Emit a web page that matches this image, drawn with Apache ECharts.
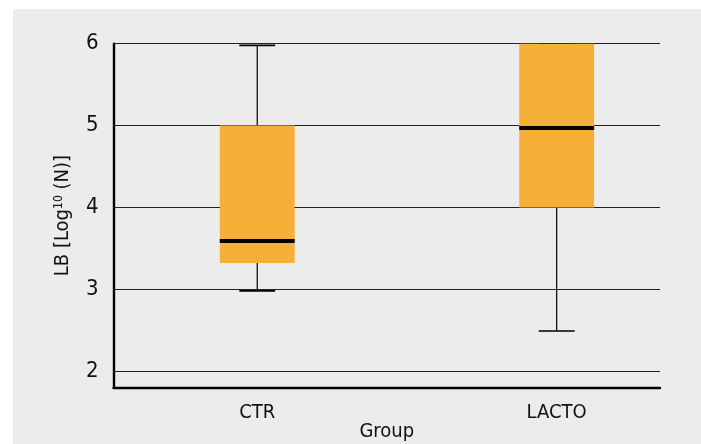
<!DOCTYPE html>
<html>
<head>
<meta charset="utf-8">
<script src="https://cdn.jsdelivr.net/npm/echarts@6/dist/echarts.min.js"></script>
<style>
html,body{margin:0;padding:0;background:#fff;}
#chart{width:701px;height:444px;}
</style>
</head>
<body>
<div id="chart"></div>
<script>
var categories = ['CTR', 'LACTO'];
var positions = [1, 2];
var lowWhisker = [2.98, 2.49];
var q1 = [3.32, 4.0];
var median = [3.59, 4.97];
var q3 = [5.0, 6.0];
var highWhisker = [5.98, 6.0];
var yTicks = [2, 3, 4, 5, 6];

var FONT = "'Liberation Sans Narrow', 'DejaVu Sans Condensed', 'Roboto', sans-serif";
var BOX_COLOR = '#f6af37';

var boxData = positions.map(function (p, i) {
  return [p, lowWhisker[i], q1[i], median[i], q3[i], highWhisker[i]];
});

function renderBox(params, api) {
  var x = api.value(0);
  var pLow = api.coord([x, api.value(1)]);
  var pQ1 = api.coord([x, api.value(2)]);
  var pMed = api.coord([x, api.value(3)]);
  var pQ3 = api.coord([x, api.value(4)]);
  var pHigh = api.coord([x, api.value(5)]);
  var boxW = api.size([0.25, 0])[0];
  var capW = api.size([0.12, 0])[0];
  var cx = pMed[0];
  return {
    type: 'group',
    children: [
      { type: 'line', shape: { x1: cx, y1: pHigh[1], x2: cx, y2: pQ3[1] }, style: { stroke: '#000', lineWidth: 1.2 } },
      { type: 'line', shape: { x1: cx, y1: pLow[1], x2: cx, y2: pQ1[1] }, style: { stroke: '#000', lineWidth: 1.2 } },
      { type: 'line', shape: { x1: cx - capW / 2, y1: pHigh[1], x2: cx + capW / 2, y2: pHigh[1] }, style: { stroke: '#000', lineWidth: 1.6 } },
      { type: 'line', shape: { x1: cx - capW / 2, y1: pLow[1], x2: cx + capW / 2, y2: pLow[1] }, style: { stroke: '#000', lineWidth: 1.6 } },
      { type: 'rect', shape: { x: cx - boxW / 2, y: pQ3[1], width: boxW, height: pQ1[1] - pQ3[1] }, style: { fill: BOX_COLOR } },
      { type: 'line', shape: { x1: cx - boxW / 2, y1: pMed[1], x2: cx + boxW / 2, y2: pMed[1] }, style: { stroke: '#000', lineWidth: 3.8 } }
    ]
  };
}

var chart = echarts.init(document.getElementById('chart'), null, { renderer: 'canvas' });
chart.setOption({
  backgroundColor: '#ffffff',
  animation: false,
  graphic: [{
    type: 'rect', z: -10, silent: true,
    shape: { x: 13, y: 9, width: 688, height: 435 },
    style: { fill: '#ececec' }
  }],
  grid: { left: 113.5, right: 41, top: 43.7, bottom: 56.5, containLabel: false, outerBoundsMode: 'none' },
  xAxis: {
    type: 'value',
    min: 0.52,
    max: 2.345,
    name: 'Group',
    nameLocation: 'middle',
    nameGap: 34,
    nameMoveOverlap: false,
    nameTextStyle: { fontFamily: FONT, fontSize: 20, color: '#111' },
    axisLine: { show: true, onZero: false, lineStyle: { color: '#000', width: 2.4 } },
    axisTick: { show: false },
    splitLine: { show: false },
    axisLabel: {
      customValues: positions,
      fontFamily: FONT, fontSize: 20, color: '#111', margin: 15,
      formatter: function (v) {
        var i = positions.indexOf(Math.round(v));
        return i >= 0 ? categories[i] : '';
      }
    }
  },
  yAxis: {
    type: 'value',
    min: 1.8,
    max: 6,
    name: '{a|LB [Log}{s|10}{a| (N)]}',
    nameLocation: 'middle',
    nameRotate: 90,
    nameGap: 40,
    nameMoveOverlap: false,
    nameTextStyle: {
      fontFamily: FONT, fontSize: 20, color: '#111',
      rich: {
        a: { fontFamily: FONT, fontSize: 20, color: '#111' },
        s: { fontFamily: FONT, fontSize: 12, color: '#111', padding: [0, 0, 9, 0] }
      }
    },
    axisLine: { show: true, onZero: false, lineStyle: { color: '#000', width: 2.4 } },
    axisTick: { show: false },
    splitLine: { show: false },
    axisLabel: {
      customValues: yTicks,
      fontFamily: FONT, fontSize: 22, color: '#111', margin: 15
    }
  },
  series: [{
    type: 'custom',
    renderItem: renderBox,
    data: boxData,
    z: 5,
    markLine: {
      silent: true,
      symbol: ['none', 'none'],
      label: { show: false },
      lineStyle: { color: '#222', width: 1.2, type: 'solid' },
      z: 1,
      data: yTicks.map(function (v) { return { yAxis: v }; })
    }
  }]
});
</script>
</body>
</html>
